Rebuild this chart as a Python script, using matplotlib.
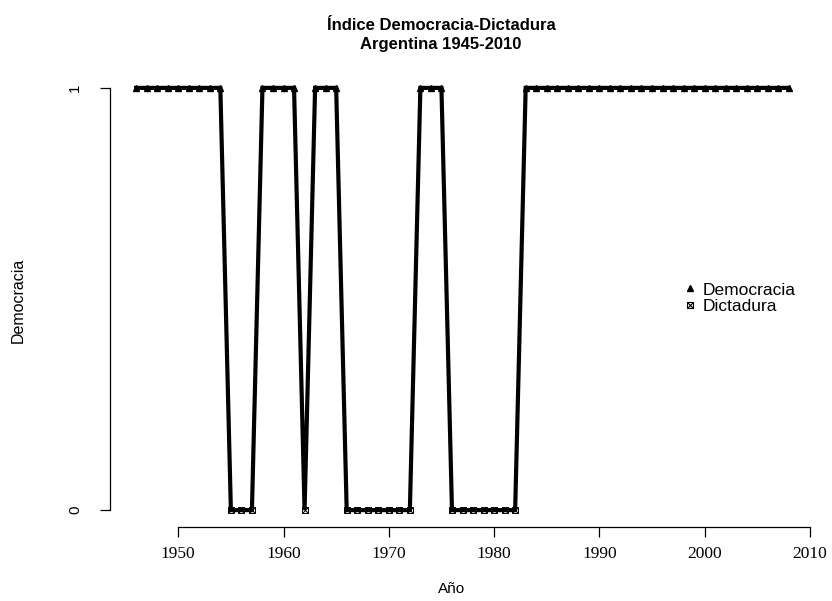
import numpy as np
import matplotlib.pyplot as plt
from matplotlib.lines import Line2D
from matplotlib.legend_handler import HandlerTuple

# Año y valor del índice (1 = Democracia, 0 = Dictadura)
years = list(range(1946, 2009))
dictadura_years = [1955, 1956, 1957, 1962,
                   1966, 1967, 1968, 1969, 1970, 1971, 1972,
                   1976, 1977, 1978, 1979, 1980, 1981, 1982]
values = [0 if y in dictadura_years else 1 for y in years]

xticks = [1950, 1960, 1970, 1980, 1990, 2000, 2010]
yticks = [0, 1]

years = np.array(years)
values = np.array(values)

fig = plt.figure(figsize=(8.32, 6.01), dpi=100)
ax = fig.add_axes([110 / 832, 1 - 527 / 601, (815 - 110) / 832, (527 - 71) / 601])

ax.plot(years, values, color="black", lw=3.0, solid_joinstyle="miter", zorder=2)

dem = values == 1
ax.plot(years[dem], values[dem], ls="none", marker="^", ms=5,
        color="black", zorder=3)
ax.plot(years[~dem], values[~dem], ls="none", marker="s", ms=4.5,
        mfc="none", mec="black", mew=0.7, zorder=3)
ax.plot(years[~dem], values[~dem], ls="none", marker="x", ms=4.5,
        color="black", mew=0.7, zorder=3)

ax.set_xlim(1943.52, 2010.48)
ax.set_ylim(-0.04, 1.04)

for s in ["top", "right"]:
    ax.spines[s].set_visible(False)
ax.spines["bottom"].set_bounds(1950, 2010)
ax.spines["left"].set_bounds(0, 1)
ax.spines["bottom"].set_linewidth(0.9)
ax.spines["left"].set_linewidth(0.9)

ax.set_xticks(xticks)
ax.set_xticklabels([str(t) for t in xticks], family="Liberation Serif", fontsize=12.5)
ax.set_yticks(yticks)
ax.set_yticklabels([str(t) for t in yticks], rotation=90, va="center",
                   family=["Liberation Sans Narrow", "Liberation Sans"], fontsize=11)
ax.tick_params(axis="x", length=7, width=0.9, pad=7)
ax.tick_params(axis="y", length=7, width=0.9, pad=13)

fig.text(452 / 832, 1 - 589 / 601, "Año", ha="center", va="center",
         family="Liberation Sans", fontsize=11)
fig.text(18 / 832, 1 - 300 / 601, "Democracia", rotation=90, ha="center", va="center",
         family=["Liberation Sans Narrow", "Liberation Sans"], fontsize=11.5)

fig.text(441 / 832, 1 - 26 / 601, "Índice Democracia-Dictadura", ha="center", va="center",
         family="Liberation Sans", fontweight="bold", fontsize=12)
fig.text(441 / 832, 1 - 45 / 601, "Argentina 1945-2010", ha="center", va="center",
         family="Liberation Sans", fontweight="bold", fontsize=12)

h1 = Line2D([], [], ls="none", marker="^", ms=5, color="black")
h2a = Line2D([], [], ls="none", marker="s", ms=4.5, mfc="none", mec="black", mew=0.8)
h2b = Line2D([], [], ls="none", marker="x", ms=4.5, color="black", mew=0.8)
ax.legend([h1, (h2a, h2b)], ["Democracia", "Dictadura"],
          handler_map={tuple: HandlerTuple(ndivide=1, pad=0)},
          loc="center left", bbox_to_anchor=((676 - 110) / 705, 1 - (298 - 71) / 456),
          frameon=False, prop={"family": "Liberation Sans", "size": 12.5},
          handlelength=0.6, handletextpad=0.45, labelspacing=0.05, borderpad=0)

fig.savefig("out.png", dpi=100)
